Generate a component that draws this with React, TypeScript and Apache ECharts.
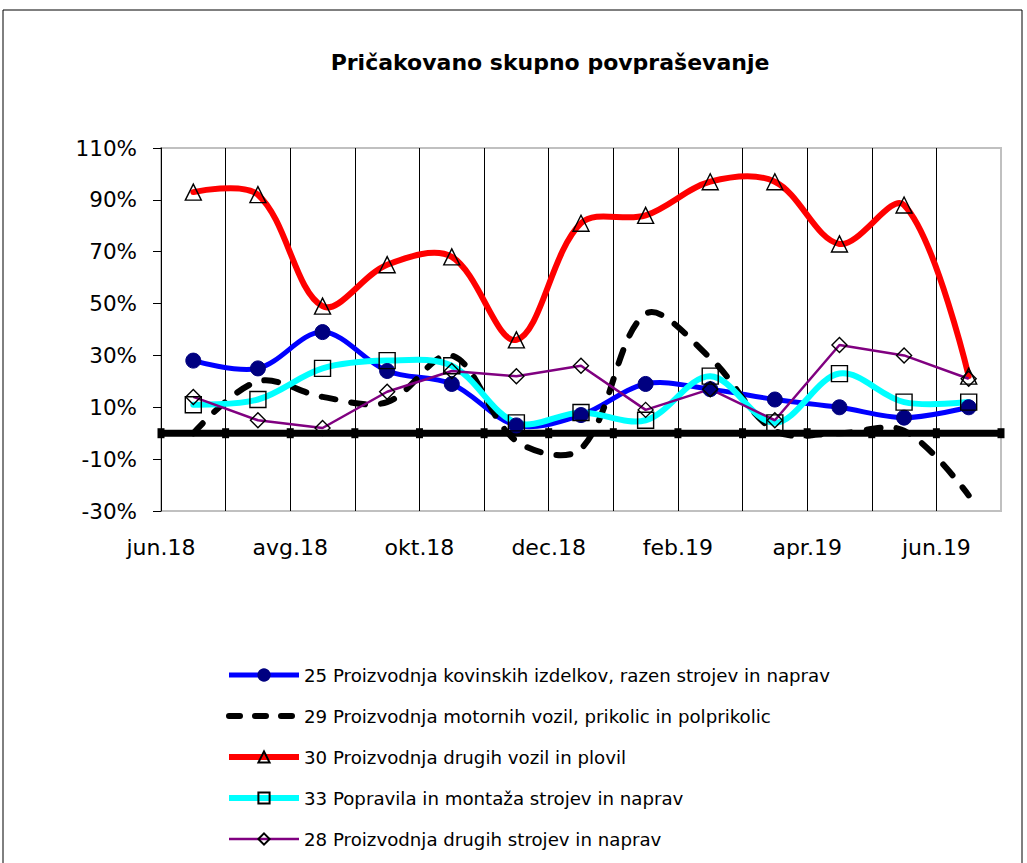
import React, { useEffect, useRef } from "react";
import * as echarts from "echarts";

const chartTitle = "Pričakovano skupno povpraševanje";
const months = ["jun.18", "jul.18", "avg.18", "sep.18", "okt.18", "nov.18", "dec.18", "jan.19", "feb.19", "mar.19", "apr.19", "maj.19", "jun.19"];
const seriesNames = [
  "25 Proizvodnja kovinskih izdelkov, razen strojev in naprav",
  "29 Proizvodnja motornih vozil, prikolic in polprikolic",
  "30 Proizvodnja drugih vozil in plovil",
  "33 Popravila in montaža strojev in naprav",
  "28 Proizvodnja drugih strojev in naprav",
];
const s25 = [28, 25, 39, 24, 19, 3, 7, 19, 17, 13, 10, 6, 10];
const s29 = [0, 20, 14, 12, 30, -3, -6, 46, 29, 1, 0, 1, -24];
const s30 = [93, 92, 49, 65, 68, 36, 81, 84, 97, 97, 73, 88, 22];
const s33 = [11, 13, 25, 28, 26, 4, 8, 5, 22, 4, 23, 12, 12];
const s28 = [14, 5, 2, 16, 24, 22, 26, 9, 17, 5, 34, 30, 21];
const baselineValue = 0;
const yMin = -30;
const yMax = 110;
const yStep = 20;

const FONT = "DejaVu Sans";

// smooth curve (Excel-like) drawn through the library's coordinate system
function curveSeries(values: number[], stroke: string, width: number, dash?: number[]) {
  return {
    type: "custom",
    xAxisIndex: 1,
    yAxisIndex: 0,
    data: values.map((v, i) => [i, v]),
    encode: { x: 0, y: 1 },
    silent: true,
    renderItem: (params: any, api: any) => {
      if (params.dataIndex !== 0) return null;
      const pts = values.map((v, i) => api.coord([i, v]));
      return {
        type: "polyline",
        shape: { points: pts, smooth: 0.34 },
        style: {
          stroke,
          lineWidth: width,
          fill: "none",
          lineDash: dash || null,
          lineCap: "round",
          lineJoin: "round",
        },
      };
    },
  };
}

export default function App() {
  const ref = useRef<HTMLDivElement>(null);
  useEffect(() => {
    if (!ref.current) return;
    const chart = echarts.init(ref.current, null, { renderer: "svg" });
    const hollow = { color: "rgba(0,0,0,0)", borderColor: "#000", borderWidth: 1.4 };
    const boundaries = [...months, ""];
    chart.setOption({
      animation: false,
      backgroundColor: "#fff",
      textStyle: { fontFamily: FONT },
      graphic: [
        {
          type: "rect",
          shape: { x: 3, y: 10, width: 1019, height: 900 },
          style: { fill: "none", stroke: "#000", lineWidth: 1 },
          silent: true,
        },
        {
          type: "text",
          x: 550,
          y: 62,
          style: {
            text: chartTitle,
            fontFamily: FONT,
            fontSize: 22,
            fontWeight: "bold",
            fill: "#000",
            textAlign: "center",
            textVerticalAlign: "middle",
          },
        },
      ],
      grid: {
        left: 161,
        right: 26,
        top: 148,
        bottom: 352,
        show: true,
        borderColor: "#c0c0c0",
        borderWidth: 2,
        containLabel: false,
      },
      legend: {
        data: [
          { name: seriesNames[0], lineStyle: { color: "#0000ff", width: 5, opacity: 1 } },
          {
            name: seriesNames[1],
            lineStyle: { color: "#000", width: 6, type: [11, 15], cap: "round", opacity: 1 },
            itemStyle: { opacity: 0 },
          },
          { name: seriesNames[2], lineStyle: { color: "#ff0000", width: 6, opacity: 1 } },
          { name: seriesNames[3], lineStyle: { color: "#00ffff", width: 6, opacity: 1 } },
          { name: seriesNames[4], lineStyle: { color: "#800080", width: 2.5, opacity: 1 } },
        ],
        orient: "vertical",
        left: 226,
        top: 665,
        padding: 0,
        itemWidth: 70,
        itemHeight: 14,
        itemGap: 21,
        textStyle: { fontFamily: FONT, fontSize: 18.2, color: "#000", lineHeight: 20 },
        selectedMode: false,
      },
      xAxis: [
        {
          type: "category",
          data: boundaries,
          boundaryGap: false,
          axisLine: { show: true, lineStyle: { color: "#c0c0c0", width: 2 } },
          axisTick: { show: false },
          axisLabel: {
            interval: 1,
            margin: 25,
            fontFamily: FONT,
            fontSize: 22,
            color: "#000",
          },
          splitLine: {
            show: true,
            interval: 0,
            showMinLine: false,
            showMaxLine: false,
            lineStyle: { color: "#000", width: 1 },
          },
        },
        {
          type: "category",
          data: months,
          boundaryGap: true,
          show: false,
        },
      ],
      yAxis: {
        type: "value",
        min: yMin,
        max: yMax,
        interval: yStep,
        axisLine: { show: true, lineStyle: { color: "#000", width: 1 } },
        axisTick: { show: true, length: 8, inside: false, lineStyle: { color: "#000" } },
        axisLabel: {
          formatter: "{value}%",
          margin: 24,
          fontFamily: FONT,
          fontSize: 21.5,
          color: "#000",
        },
        splitLine: { show: false },
      },
      series: [
        {
          name: "baseline",
          type: "line",
          xAxisIndex: 0,
          data: boundaries.map(() => baselineValue),
          symbol: "rect",
          symbolSize: [7, 10],
          lineStyle: { color: "#000", width: 7 },
          itemStyle: { color: "#000" },
          silent: true,
          z: 1,
        },
        curveSeries(s25, "#0000ff", 5),
        {
          name: seriesNames[0],
          type: "line",
          xAxisIndex: 1,
          data: s25,
          symbol: "circle",
          symbolSize: 15,
          lineStyle: { color: "#0000ff", width: 5, opacity: 0 },
          itemStyle: { color: "#000080", borderColor: "#000080", borderWidth: 1 },
        },
        curveSeries(s29, "#000", 6, [14, 16]),
        {
          name: seriesNames[1],
          type: "line",
          xAxisIndex: 1,
          data: s29,
          symbol: "none",
          lineStyle: { color: "#000", width: 6, opacity: 0 },
          itemStyle: { color: "#000" },
        },
        curveSeries(s30, "#ff0000", 6),
        {
          name: seriesNames[2],
          type: "line",
          xAxisIndex: 1,
          data: s30,
          symbol: "triangle",
          symbolSize: 16,
          lineStyle: { color: "#ff0000", width: 6, opacity: 0 },
          itemStyle: hollow,
        },
        curveSeries(s33, "#00ffff", 6),
        {
          name: seriesNames[3],
          type: "line",
          xAxisIndex: 1,
          data: s33,
          symbol: "rect",
          symbolSize: 16,
          lineStyle: { color: "#00ffff", width: 6, opacity: 0 },
          itemStyle: hollow,
        },
        {
          name: seriesNames[4],
          type: "line",
          xAxisIndex: 1,
          data: s28,
          smooth: false,
          symbol: "diamond",
          symbolSize: 15,
          lineStyle: { color: "#800080", width: 2.5 },
          itemStyle: hollow,
        },
      ],
    });
    return () => chart.dispose();
  }, []);
  return (
    <div
      ref={ref}
      style={{ position: "fixed", left: 0, top: 0, width: 1027, height: 863, background: "#fff" }}
    />
  );
}
